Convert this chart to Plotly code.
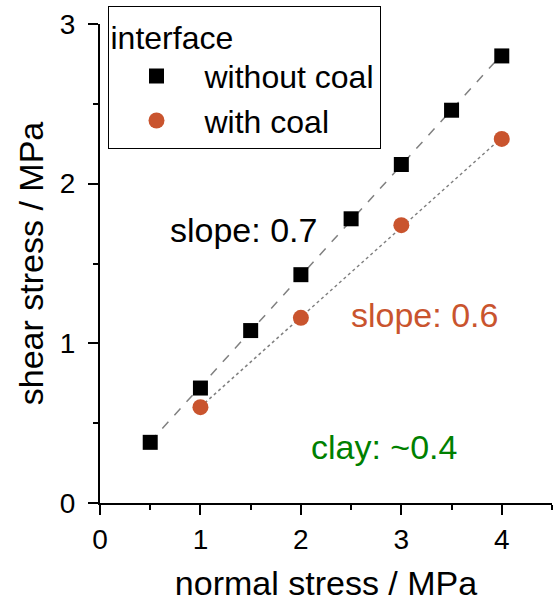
import numpy as np
import plotly.graph_objects as go

# Direct shear test results
normal_without = [0.5, 1.0, 1.5, 2.0, 2.5, 3.0, 3.5, 4.0]
shear_without = [0.38, 0.72, 1.08, 1.43, 1.78, 2.12, 2.46, 2.80]
normal_with = [1.0, 2.0, 3.0, 4.0]
shear_with = [0.60, 1.16, 1.74, 2.28]

FONT = "Liberation Sans, Arial, sans-serif"
ORANGE = "#C9542E"
GREY = "#808080"

fig = go.Figure()

# Linear fits drawn behind the markers
for xs, ys, dash in [(normal_without, shear_without, "dash"),
                     (normal_with, shear_with, "dot")]:
    k, b = np.polyfit(xs, ys, 1)
    xf = np.array([min(xs), max(xs)])
    fig.add_trace(go.Scatter(x=xf, y=k * xf + b, mode="lines",
                             line=dict(color=GREY, width=1.5, dash=dash),
                             showlegend=False, hoverinfo="skip"))

fig.add_trace(go.Scatter(x=normal_without, y=shear_without, mode="markers",
                         name="without coal",
                         marker=dict(symbol="square", size=15, color="black")))
fig.add_trace(go.Scatter(x=normal_with, y=shear_with, mode="markers",
                         name="with coal",
                         marker=dict(symbol="circle", size=16, color=ORANGE)))

annotations = [
    dict(text="slope: 0.7", x=1.425, y=1.71, color="black"),
    dict(text="slope: 0.6", x=3.23, y=1.175, color=ORANGE),
    dict(text="clay: ~0.4", x=2.825, y=0.35, color="#008000"),
]
for a in annotations:
    fig.add_annotation(x=a["x"], y=a["y"], text=a["text"], showarrow=False,
                       font=dict(family=FONT, size=34, color=a["color"]))

axis_common = dict(
    showline=True, linecolor="black", linewidth=2,
    ticks="outside", ticklen=10, tickwidth=2, tickcolor="black",
    showgrid=False, zeroline=False,
    tickfont=dict(family=FONT, size=28, color="black"),
    minor=dict(ticks="outside", ticklen=5, tickwidth=2, tickcolor="black", dtick=0.5),
)

fig.update_layout(
    width=558, height=606,
    margin=dict(l=99.5, r=5.5, t=24, b=103.3),
    plot_bgcolor="white", paper_bgcolor="white",
    font=dict(family=FONT, color="black"),
    xaxis=dict(range=[0, 4.5], dtick=1,
               title=dict(text="normal stress / MPa",
                          font=dict(family=FONT, size=34), standoff=18),
               **axis_common),
    yaxis=dict(range=[0, 3], dtick=1, ticklabelstandoff=7,
               title=dict(text="shear stress / MPa",
                          font=dict(family=FONT, size=34), standoff=6),
               **axis_common),
    legend=dict(x=0.0166, y=1.0376, xanchor="left", yanchor="top",
                bgcolor="white", bordercolor="black", borderwidth=1,
                font=dict(family=FONT, size=32),
                title=dict(text="interface", font=dict(family=FONT, size=32)),
                itemwidth=86, tracegroupgap=0),
    showlegend=True,
)

fig.write_html("out.html")
